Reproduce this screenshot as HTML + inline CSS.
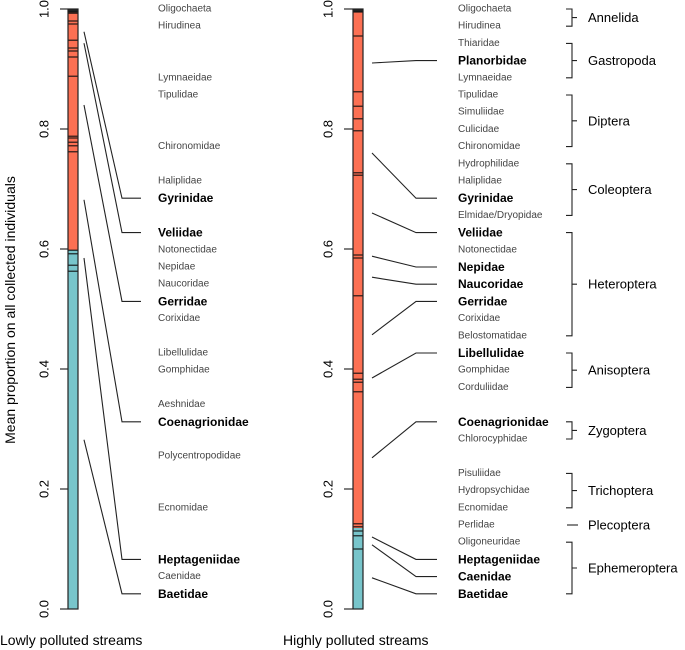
<!DOCTYPE html>
<html><head><meta charset="utf-8"><style>
body{margin:0;background:#fff}
svg{display:block;font-family:"Liberation Sans",Arial,sans-serif}
</style></head><body>
<svg id="chart" width="685" height="650" viewBox="0 0 685 650"></svg>
<script>
// ---- data ----
const yTicks = [0, 0.2, 0.4, 0.6, 0.8, 1.0];
const tickLabels = ["0.0","0.2","0.4","0.6","0.8","1.0"];
const lowBlueTop = 0.598;
const lowLines = [0.995,0.993,0.98,0.975,0.948,0.935,0.93,0.92,0.888,0.788,0.785,0.778,0.772,0.762,0.598,0.592,0.573,0.563];
const highBlueTop = 0.135;
const highLines = [0.995,0.955,0.862,0.838,0.817,0.797,0.727,0.723,0.59,0.585,0.522,0.393,0.383,0.378,0.362,0.142,0.137,0.13,0.122,0.1];
const lowLabels = ["Oligochaeta","Hirudinea","Lymnaeidae","Tipulidae","Chironomidae","Haliplidae","Gyrinidae","Veliidae","Notonectidae","Nepidae","Naucoridae","Gerridae","Corixidae","Libellulidae","Gomphidae","Aeshnidae","Coenagrionidae","Polycentropodidae","Ecnomidae","Heptageniidae","Caenidae","Baetidae"];
const lowRows = [0,1,4,5,8,10,11,13,14,15,16,17,18,20,21,23,24,26,29,32,33,34];
const lowBold = ["Gyrinidae","Veliidae","Gerridae","Coenagrionidae","Heptageniidae","Baetidae"];
const lowLinkFrom = [0.962,0.943,0.84,0.682,0.585,0.282];
const highLabels = ["Oligochaeta","Hirudinea","Thiaridae","Planorbidae","Lymnaeidae","Tipulidae","Simuliidae","Culicidae","Chironomidae","Hydrophilidae","Haliplidae","Gyrinidae","Elmidae/Dryopidae","Veliidae","Notonectidae","Nepidae","Naucoridae","Gerridae","Corixidae","Belostomatidae","Libellulidae","Gomphidae","Corduliidae","Coenagrionidae","Chlorocyphidae","Pisuliidae","Hydropsychidae","Ecnomidae","Perlidae","Oligoneuridae","Heptageniidae","Caenidae","Baetidae"];
const highRows = [0,1,2,3,4,5,6,7,8,9,10,11,12,13,14,15,16,17,18,19,20,21,22,24,25,27,28,29,30,31,32,33,34];
const highBold = ["Planorbidae","Gyrinidae","Veliidae","Nepidae","Naucoridae","Gerridae","Libellulidae","Coenagrionidae","Heptageniidae","Caenidae","Baetidae"];
const highLinkFrom = [0.91,0.76,0.66,0.588,0.553,0.457,0.385,0.252,0.12,0.107,0.052];
const groups = ["Annelida","Gastropoda","Diptera","Coleoptera","Heteroptera","Anisoptera","Zygoptera","Trichoptera","Plecoptera","Ephemeroptera"];
const groupStart = [0,2,5,9,13,20,24,27,30,31];
const groupEnd = [1,4,8,12,19,22,25,29,30,34];

// ---- drawing ----
const svg = document.getElementById('chart');
const NS = 'http://www.w3.org/2000/svg';
const y = v => 609 - v * 600;
const rowY = r => 9 + r * 17.2;
function mk(tag, attrs, text){
  const e = document.createElementNS(NS, tag);
  for (const k in attrs) e.setAttribute(k, attrs[k]);
  if (text !== undefined) e.textContent = text;
  svg.appendChild(e);
  return e;
}
function txt(x, yy, s, bold, size, fill, name){
  const e = mk('text', {x: x, y: yy, 'dominant-baseline':'central', 'font-size': size, fill: fill, 'font-weight': bold ? 'bold' : 'normal'}, s);
  
  
  return e;
}

function panel(prefix, tickX, barX, blueTop, lines, labels, rows, bold, linkFrom, linkX0, elbowX, linkX1, labelX){
  yTicks.forEach((t,i)=>{
    const l = mk('line',{x1:tickX,x2:barX,y1:y(t),y2:y(t),stroke:'#000','stroke-width':1});
    
    
    const tx = mk('text',{x:tickX-16,y:y(t),'font-size':13,fill:'#000','text-anchor':'middle','dominant-baseline':'central',transform:`rotate(-90 ${tickX-16} ${y(t)})`}, tickLabels[i]);
    
    
  });
  const red = mk('rect',{x:barX,y:y(1),width:10,height:y(blueTop)-y(1),fill:'#fc7053'});
  
  
  const blue = mk('rect',{x:barX,y:y(blueTop),width:10,height:y(0)-y(blueTop),fill:'#78c5cb'});
  
  
  const top = mk('rect',{x:barX,y:y(1),width:10,height:y(0.995)-y(1),fill:'#222'});
  
  
  lines.forEach(v=>{
    const l = mk('line',{x1:barX,x2:barX+10,y1:y(v),y2:y(v),stroke:'#111','stroke-width':1.1});
    
    
  });
  const out = mk('rect',{x:barX,y:y(1),width:10,height:600,fill:'none',stroke:'#222','stroke-width':1.2});
  
  
  const boldRows = [];
  labels.forEach((s,i)=>{
    const b = bold.includes(s);
    txt(labelX, rowY(rows[i]), s, b, b?12:10, b?'#000':'#444', prefix+'-taxon-label');
    if (b) boldRows.push(rows[i]);
  });
  linkFrom.forEach((v,i)=>{
    const ry = rowY(boldRows[i]);
    const p = mk('polyline',{points:`${linkX0},${y(v)} ${elbowX},${ry} ${linkX1},${ry}`,fill:'none',stroke:'#222','stroke-width':1.1});
    
    
  });
}
panel('lowly', 60, 68, lowBlueTop, lowLines, lowLabels, lowRows, lowBold, lowLinkFrom, 84, 122, 141, 158);
panel('highly', 344, 353, highBlueTop, highLines, highLabels, highRows, highBold, highLinkFrom, 372, 416, 437, 458);

groups.forEach((g,i)=>{
  const a = rowY(groupStart[i]), b = rowY(groupEnd[i]), m = (a+b)/2;
  if (groupStart[i] === groupEnd[i]) {
    const l = mk('line',{x1:567,x2:578,y1:m,y2:m,stroke:'#222','stroke-width':1.1});
    
    
  } else {
    const p = mk('path',{d:`M566 ${a} H572 V${b} H566 M572 ${m} H577`,fill:'none',stroke:'#222','stroke-width':1.1});
    
    
  }
  txt(588, m, g, false, 13, '#000', 'group-label');
});

const yt = mk('text',{x:10,y:310,'font-size':14,fill:'#000','text-anchor':'middle','dominant-baseline':'central',transform:'rotate(-90 10 310)'},'Mean proportion on all collected individuals');


const x1 = mk('text',{x:0,y:645,'font-size':14,fill:'#000'},'Lowly polluted streams');


const x2 = mk('text',{x:283,y:645,'font-size':14,fill:'#000'},'Highly polluted streams');


</script>
</body></html>
